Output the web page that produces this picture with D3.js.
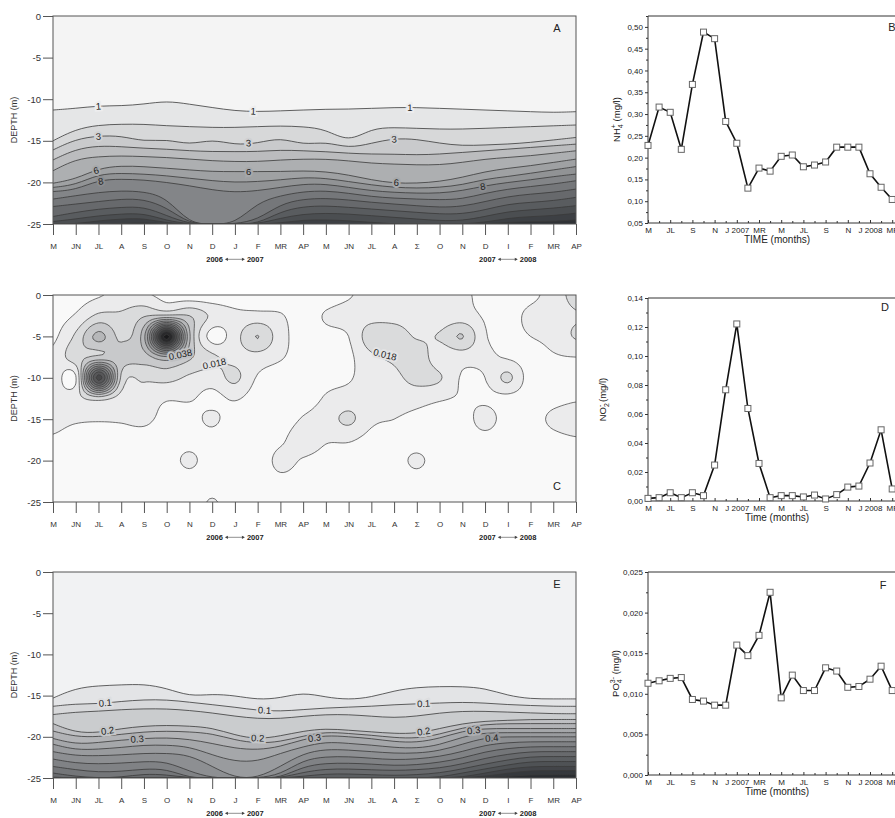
<!DOCTYPE html>
<html><head><meta charset="utf-8">
<script src="https://cdn.jsdelivr.net/npm/d3@7"></script>
<style>
body{margin:0;background:#fff;}
text{font-family:"Liberation Sans", Arial, sans-serif;}
</style></head><body>
<svg id="chart" width="895" height="818"></svg>
<script>
// ---------------- DATA ----------------
const contourMonths = ["M","JN","JL","A","S","O","N","D","J","F","MR","AP","M","JN","JL","A","Σ","O","N","D","I","F","MR","AP"];
const depthTicks = [0,-5,-10,-15,-20,-25];
const yearLabels = [{from:"2006", to:"2007", at:8}, {from:"2007", to:"2008", at:20}];

// Panel A: depth (m) of isolines 1..14 at each month
const aLevels = [1,2,3,4,5,6,7,8,9,10,11,12,13,14];
const aL1 = [-11.3,-11.1,-10.8,-10.8,-10.6,-10.2,-10.6,-11.0,-11.4,-11.5,-11.4,-11.3,-11.2,-11.2,-11.1,-11.0,-11.0,-11.1,-11.2,-11.3,-11.4,-11.5,-11.6,-11.5];
const aL2 = [-15.0,-13.6,-13.1,-13.0,-13.0,-13.2,-13.3,-13.4,-13.4,-13.3,-13.2,-13.3,-13.6,-15.2,-13.5,-13.4,-13.5,-13.6,-13.6,-13.5,-13.4,-13.3,-13.2,-13.1];
const aL3 = [-16.1,-14.8,-14.4,-14.4,-15.1,-14.8,-15.5,-14.8,-15.5,-15.3,-14.6,-15.5,-15.1,-15.9,-15.3,-14.7,-14.8,-15.3,-15.6,-15.5,-15.4,-15.2,-14.9,-14.6];
const aL4 = [-17.3,-16.0,-15.6,-15.7,-15.9,-16.0,-16.2,-16.3,-16.3,-16.3,-16.1,-16.2,-16.3,-16.5,-16.6,-16.6,-16.7,-16.6,-16.4,-16.2,-16.0,-15.8,-15.6,-15.4];
const aL5 = [-18.6,-17.2,-16.9,-16.8,-16.9,-17.0,-17.2,-17.4,-17.5,-17.5,-17.3,-17.2,-17.2,-17.4,-17.7,-17.8,-17.9,-17.9,-17.6,-17.2,-17.0,-16.8,-16.5,-16.2];
const aL6 = [-20.1,-19.6,-18.3,-18.0,-18.1,-18.3,-18.5,-18.7,-18.7,-18.7,-18.7,-18.6,-18.7,-19.1,-19.7,-20.1,-20.1,-19.9,-19.4,-18.7,-18.3,-18.0,-17.6,-17.2];
const aL7 = [-20.6,-20.3,-19.0,-18.9,-19.0,-19.2,-19.5,-19.8,-20.0,-19.9,-19.7,-19.4,-19.5,-19.9,-20.3,-20.6,-20.7,-20.6,-20.3,-19.6,-19.3,-18.9,-18.5,-18.1];
const aL8 = [-21.1,-20.9,-19.7,-19.6,-19.7,-20.0,-20.4,-20.9,-21.2,-21.0,-20.6,-20.2,-20.2,-20.6,-21.0,-21.2,-21.3,-21.3,-21.0,-20.4,-20.0,-19.7,-19.3,-19.0];
const aL9 = [-22.0,-21.6,-21.2,-21.0,-21.1,-21.8,-25,-25,-25,-22.4,-21.6,-21.1,-21.0,-21.3,-21.7,-21.9,-22.0,-22.1,-22.0,-21.3,-20.8,-20.5,-20.2,-19.8];
const aL10 = [-22.9,-22.6,-22.3,-22.0,-22.0,-23.0,-25,-25,-25,-24.5,-22.6,-22.0,-21.9,-22.1,-22.4,-22.6,-22.8,-23.0,-22.9,-22.3,-21.7,-21.4,-21.2,-20.8];
const aL11 = [-24.1,-23.6,-23.2,-23.0,-22.9,-24.0,-25,-25,-25,-25,-23.5,-22.9,-22.8,-23.0,-23.2,-23.4,-23.6,-23.8,-23.8,-23.3,-22.6,-22.4,-22.2,-21.8];
const aL12 = [-24.7,-24.4,-24.0,-23.8,-23.7,-24.6,-25,-25,-25,-25,-24.3,-23.8,-23.7,-23.8,-24.0,-24.2,-24.4,-24.6,-24.6,-24.1,-23.5,-23.3,-23.1,-22.8];
const aL13 = [-25,-25,-24.6,-24.4,-24.3,-24.9,-25,-25,-25,-25,-24.9,-24.5,-24.5,-24.6,-24.8,-25,-25,-25,-25,-24.8,-24.3,-24.1,-24.0,-23.7];
const aL14 = [-25,-25,-25,-25,-24.8,-25,-25,-25,-25,-25,-25,-25,-25,-25,-25,-25,-25,-25,-25,-25,-24.8,-24.7,-24.7,-24.5];
const aIsolines = [aL1,aL2,aL3,aL4,aL5,aL6,aL7,aL8,aL9,aL10,aL11,aL12,aL13,aL14];
const aLabels = [
  {k:0,t:2,s:"1"},{k:0,t:8.8,s:"1"},{k:0,t:15.7,s:"1"},
  {k:2,t:2,s:"3"},{k:2,t:8.6,s:"3"},{k:2,t:15,s:"3"},
  {k:5,t:1.9,s:"6"},{k:5,t:8.6,s:"6"},{k:5,t:15.1,s:"6"},
  {k:7,t:2.1,s:"8"},{k:7,t:18.9,s:"8"}];

// Panel C: NO2 grid (mg/l), rows = depths, columns = months
const cDepths = [0,-2.5,-5,-7.5,-10,-12.5,-15,-17.5,-20,-22.5,-25];
const cR0  = [.002,.004,.007,.011,.010,.004,.002,.002,.002,.001,.001,.001,.003,.007,.012,.012,.011,.011,.010,.005,.004,.006,.012,.022];
const cR1  = [.004,.009,.020,.020,.027,.030,.028,.016,.011,.011,.009,.003,.009,.012,.014,.014,.012,.011,.012,.007,.005,.010,.012,.017];
const cR2  = [.006,.020,.041,.026,.045,.142,.040,.004,.014,.0283,.012,.004,.005,.008,.024,.024,.017,.019,.0285,.009,.006,.008,.011,.019];
const cR3  = [.011,.024,.030,.032,.033,.046,.030,.020,.015,.014,.009,.004,.003,.006,.016,.020,.024,.012,.012,.010,.007,.004,.007,.008];
const cR4  = [.016,.007,.112,.026,.020,.022,.016,.013,.020,.007,.003,.003,.005,.007,.013,.015,.022,.019,.007,.008,.020,.003,.003,.004];
const cR5  = [.012,.015,.022,.014,.013,.009,.009,.005,.009,.003,.002,.003,.009,.012,.012,.011,.011,.009,.007,.006,.005,.003,.005,.007];
const cR6  = [.010,.009,.009,.009,.010,.005,.004,.010,.002,.002,.002,.009,.013,.020,.010,.008,.006,.004,.003,.012,.003,.004,.010,.013];
const cR7  = [.007,.005,.004,.004,.004,.003,.004,.003,.001,.001,.006,.014,.009,.009,.005,.004,.003,.002,.002,.004,.002,.002,.005,.007];
const cR8  = [.002,.002,.002,.002,.002,.003,.010,.002,.001,.001,.011,.007,.004,.003,.003,.003,.010,.002,.001,.002,.002,.001,.002,.002];
const cR9  = [.001,.001,.001,.001,.001,.001,.003,.002,.001,.001,.005,.003,.002,.002,.002,.002,.003,.001,.001,.001,.002,.001,.001,.001];
const cR10 = [.001,.001,.001,.001,.001,.001,.001,.009,.001,.001,.001,.001,.001,.001,.001,.001,.001,.001,.001,.001,.008,.001,.001,.001];
const cGrid = [cR0,cR1,cR2,cR3,cR4,cR5,cR6,cR7,cR8,cR9,cR10];
const cLevels = [0.008,0.018,0.028,0.038,0.048,0.058,0.068,0.078,0.088,0.098,0.108,0.118,0.128,0.138];
const cLabels = [{t:5.6,d:-7.2,s:"0.038",r:-12,k:3},{t:7.1,d:-8.3,s:"0.018",r:-12,k:1},{t:14.6,d:-7.2,s:"0.018",r:14,k:1}];

// Panel E: depth (m) of isolines 0.05..0.80 at each month
const eLevels = [0.05,0.1,0.15,0.2,0.25,0.3,0.35,0.4,0.45,0.5,0.55,0.6,0.65,0.7,0.75,0.8];
const eL1 = [-15.3,-14.1,-13.8,-13.7,-13.6,-14.1,-15.1,-14.8,-15.0,-15.5,-15.3,-14.6,-15.2,-15.5,-15.2,-14.4,-14.0,-13.9,-13.9,-14.1,-15.0,-15.4,-15.4,-15.4];
const eL2 = [-16.3,-16.0,-16.0,-15.7,-15.5,-15.5,-15.8,-16.1,-16.4,-16.8,-16.9,-16.7,-16.5,-16.4,-16.3,-16.1,-16.0,-15.9,-15.8,-15.9,-16.1,-16.2,-16.3,-16.3];
const eL3 = [-17.3,-17.0,-16.9,-16.7,-16.6,-16.6,-16.8,-17.1,-17.5,-17.8,-17.8,-17.5,-17.3,-17.3,-17.5,-17.7,-17.5,-17.1,-16.9,-16.9,-17.0,-17.1,-17.2,-17.2];
const eL4 = [-18.4,-19.5,-19.5,-19.0,-18.7,-18.6,-18.7,-18.9,-19.8,-20.3,-19.9,-19.3,-19.0,-19.2,-19.4,-19.6,-19.6,-19.0,-18.4,-18.1,-18.0,-17.9,-17.9,-17.9];
const eL5 = [-19.3,-20.0,-20.0,-19.7,-19.4,-19.3,-19.4,-19.6,-20.4,-20.8,-20.6,-19.9,-19.4,-19.6,-19.8,-20.1,-20.2,-19.7,-18.9,-18.5,-18.4,-18.4,-18.4,-18.4];
const eL6 = [-20.2,-20.9,-20.7,-20.4,-20.2,-20.1,-20.3,-20.8,-21.4,-21.6,-21.2,-20.3,-19.8,-20.0,-20.2,-20.6,-20.7,-20.2,-19.3,-19.0,-19.0,-19.0,-19.0,-19.0];
const eL7 = [-20.9,-21.6,-21.5,-21.3,-21.0,-21.0,-21.2,-22.2,-23.0,-23.0,-22.0,-21.2,-20.6,-20.8,-21.0,-21.3,-21.4,-21.0,-20.0,-19.5,-19.5,-19.5,-19.5,-19.5];
const eL8 = [-21.8,-22.3,-22.3,-22.2,-22.0,-22.0,-22.2,-23.6,-25,-25,-23.6,-22.0,-21.5,-21.6,-21.8,-22.0,-22.0,-21.7,-20.9,-20.1,-20.0,-20.0,-20.0,-20.0];
const eL9 = [-22.7,-23.2,-23.3,-23.2,-23.0,-23.0,-24.2,-25,-25,-25,-24.6,-22.8,-22.4,-22.4,-22.6,-22.8,-22.7,-22.4,-21.8,-21.0,-20.7,-20.6,-20.6,-20.6];
const eL10 = [-23.6,-24.0,-24.3,-24.2,-23.9,-23.9,-25,-25,-25,-25,-25,-23.6,-23.2,-23.2,-23.3,-23.5,-23.4,-23.1,-22.6,-21.8,-21.4,-21.2,-21.2,-21.2];
const eL11 = [-24.4,-24.8,-25,-24.9,-24.5,-24.6,-25,-25,-25,-25,-25,-24.3,-23.9,-23.9,-24.0,-24.1,-24.0,-23.8,-23.3,-22.6,-22.1,-21.8,-21.8,-21.8];
const eL12 = [-24.9,-25,-25,-25,-25,-25,-25,-25,-25,-25,-25,-24.8,-24.5,-24.5,-24.6,-24.7,-24.6,-24.4,-23.9,-23.3,-22.8,-22.4,-22.4,-22.4];
const eL13 = [-25,-25,-25,-25,-25,-25,-25,-25,-25,-25,-25,-25,-25,-25,-25,-25,-25,-24.9,-24.4,-23.9,-23.4,-23.0,-23.0,-23.0];
const eL14 = [-25,-25,-25,-25,-25,-25,-25,-25,-25,-25,-25,-25,-25,-25,-25,-25,-25,-25,-24.9,-24.4,-23.9,-23.6,-23.6,-23.6];
const eL15 = [-25,-25,-25,-25,-25,-25,-25,-25,-25,-25,-25,-25,-25,-25,-25,-25,-25,-25,-25,-24.8,-24.4,-24.1,-24.1,-24.1];
const eL16 = [-25,-25,-25,-25,-25,-25,-25,-25,-25,-25,-25,-25,-25,-25,-25,-25,-25,-25,-25,-25,-24.8,-24.6,-24.6,-24.6];
const eIsolines = [eL1,eL2,eL3,eL4,eL5,eL6,eL7,eL8,eL9,eL10,eL11,eL12,eL13,eL14,eL15,eL16];
const eLabels = [
  {k:1,t:2.3,s:"0.1"},{k:1,t:9.3,s:"0.1"},{k:1,t:16.3,s:"0.1"},
  {k:3,t:2.4,s:"0.2"},{k:3,t:9.0,s:"0.2"},{k:3,t:16.3,s:"0.2"},
  {k:5,t:3.7,s:"0.3"},{k:5,t:11.5,s:"0.3"},{k:5,t:18.5,s:"0.3"},
  {k:7,t:19.3,s:"0.4"}];

// Line charts (monthly, May 2006 -> Mar 2008)
const lineMonthLabels = ["M","JL","S","N","J 2007","MR","M","JL","S","N","J 2008","MR"];
const nh4 = [0.228,0.316,0.304,0.219,0.368,0.488,0.473,0.283,0.233,0.130,0.176,0.169,0.203,0.206,0.179,0.183,0.190,0.224,0.224,0.224,0.163,0.132,0.104];
const no2 = [0.0018,0.0023,0.0057,0.0023,0.0057,0.0037,0.0248,0.0767,0.1221,0.0638,0.0259,0.0023,0.0037,0.0037,0.0028,0.0041,0.0014,0.0044,0.0096,0.0103,0.0262,0.0491,0.0083];
const po4 = [0.0113,0.0116,0.0119,0.0120,0.0093,0.0091,0.0086,0.0086,0.0160,0.0147,0.0172,0.0225,0.0095,0.0123,0.0104,0.0104,0.0132,0.0128,0.0108,0.0109,0.0118,0.0134,0.0104];
const nh4Ticks = [0.05,0.10,0.15,0.20,0.25,0.30,0.35,0.40,0.45,0.50];
const no2Ticks = [0,0.02,0.04,0.06,0.08,0.10,0.12,0.14];
const po4Ticks = [0,0.005,0.010,0.015,0.020,0.025];

// ---------------- DRAW ----------------
const svg = d3.select("#chart");
svg.append("rect").attr("width",895).attr("height",818).attr("fill","#fff");
const defs = svg.append("defs");
const xC = d3.scaleLinear().domain([0,23]).range([53,576]);

function basisAt(arr, t){
  const n = arr.length;
  const v = i => arr[Math.max(0, Math.min(n-1, i))];
  const k = i => (i<=0||i>=n-1) ? v(i) : (v(i-1)+4*v(i)+v(i+1))/6;
  const i0 = Math.floor(t), f = t - i0;
  return k(i0)*(1-f) + k(i0+1)*f;
}

function contourFrame(top, bottom){
  const y = d3.scaleLinear().domain([0,-25]).range([top,bottom]);
  const g = svg.append("g");
  const ya = g.append("g").attr("transform","translate(53,0)")
    .call(d3.axisLeft(y).tickValues(depthTicks).tickSize(10).tickSizeOuter(0).tickPadding(2).tickFormat(d=>String(d)));
  const xa = g.append("g").attr("transform",`translate(0,${bottom})`)
    .call(d3.axisBottom(xC).tickValues(d3.range(24)).tickSize(11).tickSizeOuter(0).tickPadding(8).tickFormat(i=>contourMonths[i]));
  [ya,xa].forEach(a=>{a.selectAll("path,line").attr("stroke","#555");a.select(".domain").remove();});
  ya.selectAll("text").attr("font-size",9.5).attr("fill","#333").attr("font-family","Liberation Sans, Arial, sans-serif");
  xa.selectAll("text").attr("font-size",8).attr("fill","#333").attr("font-family","Liberation Sans, Arial, sans-serif");
  g.append("text").attr("transform",`translate(17,${(top+bottom)/2}) rotate(-90)`).attr("text-anchor","middle")
    .attr("font-size",9).attr("fill","#333").text("DEPTH (m)");
  yearLabels.forEach(yl=>{
    const cx = xC(yl.at), by = bottom + 38;
    g.append("text").attr("x",cx-12).attr("y",by).attr("text-anchor","end").attr("font-size",7.5).attr("font-weight","bold").attr("fill","#222").text(yl.from);
    g.append("text").attr("x",cx+12).attr("y",by).attr("text-anchor","start").attr("font-size",7.5).attr("font-weight","bold").attr("fill","#222").text(yl.to);
    g.append("line").attr("x1",cx-9).attr("x2",cx+9).attr("y1",by-2.7).attr("y2",by-2.7).attr("stroke","#444").attr("stroke-width",0.6);
    g.append("path").attr("d",`M${cx-10},${by-2.7}l3,-1.6v3.2z M${cx+10},${by-2.7}l-3,-1.6v3.2z`).attr("fill","#444");
  });
  return y;
}

function frameAndLetter(top, bottom, letter, letterY){
  svg.append("rect").attr("x",53).attr("y",top).attr("width",523).attr("height",bottom-top)
    .attr("fill","none").attr("stroke","#555").attr("stroke-width",1);
  svg.append("text").attr("x",557).attr("y",letterY).attr("text-anchor","middle").attr("font-size",11).attr("fill","#222").text(letter);
}

function clipFor(id, top, bottom){
  defs.append("clipPath").attr("id",id).append("rect").attr("x",53).attr("y",top).attr("width",523).attr("height",bottom-top);
}

function bandPanel(id, top, bottom, isolines, topColor, colA, colB, labels){
  clipFor(id, top, bottom);
  const y = d3.scaleLinear().domain([0,-25]).range([top,bottom]);
  const g = svg.append("g").attr("clip-path",`url(#${id})`);
  const n = isolines.length;
  const col = k => d3.interpolateRgb(colA, colB)(k/(n-1));
  g.append("rect").attr("x",53).attr("y",top).attr("width",523).attr("height",bottom-top).attr("fill",topColor);
  const area = d3.area().x((d,i)=>xC(i)).y0(d=>y(d)).y1(bottom+3).curve(d3.curveBasis);
  isolines.forEach((L,k)=> g.append("path").datum(L).attr("d",area).attr("fill",col(k)));
  const line = d3.line().x((d,i)=>xC(i)).y(d=>y(d)).curve(d3.curveBasis);
  isolines.forEach(L=> g.append("path").datum(L).attr("d",line).attr("fill","none").attr("stroke","#3a3a3a").attr("stroke-width",0.8));
  labels.forEach(lb=>{
    const L = isolines[lb.k];
    const px = xC(lb.t), py = y(basisAt(L, lb.t));
    const a = Math.atan2(y(basisAt(L,lb.t+0.4))-y(basisAt(L,lb.t-0.4)), xC(lb.t+0.4)-xC(lb.t-0.4))*180/Math.PI;
    const halo = d3.interpolateRgb(lb.k===0?topColor:col(lb.k-1), col(lb.k))(0.5);
    g.append("text").attr("transform",`translate(${px},${py}) rotate(${Math.max(-30,Math.min(30,a))})`)
      .attr("text-anchor","middle").attr("dy","0.35em").attr("font-size",9.5).attr("fill","#222")
      .attr("stroke",halo).attr("stroke-width",4).attr("paint-order","stroke").text(lb.s);
  });
}

// ---- Panel A
contourFrame(16, 224);
bandPanel("clipA", 16, 224, aIsolines, "#f4f4f4", "#e5e6e7", "#2f3236", aLabels);
frameAndLetter(16, 224, "A", 32);

// ---- Panel C
const yCc = contourFrame(295, 502);
clipFor("clipC", 295, 502);
(function(){
  const S = 8, R = cGrid.length, Cn = cGrid[0].length;
  const nx = (Cn-1)*S+1, ny = (R-1)*S+1;
  const g = (a,b)=> cGrid[Math.max(0,Math.min(R-1,a))][Math.max(0,Math.min(Cn-1,b))];
  const cr = (p0,p1,p2,p3,t)=>0.5*(2*p1+(-p0+p2)*t+(2*p0-5*p1+4*p2-p3)*t*t+(-p0+3*p1-3*p2+p3)*t*t*t);
  const vals = new Float64Array(nx*ny);
  for(let j=0;j<ny;j++){
    const r = j/S, ri = Math.min(Math.floor(r), R-2), tr = r-ri;
    for(let i=0;i<nx;i++){
      const c = i/S, ci = Math.min(Math.floor(c), Cn-2), tc = c-ci;
      const rows = [-1,0,1,2].map(d=>cr(g(ri+d,ci-1),g(ri+d,ci),g(ri+d,ci+1),g(ri+d,ci+2),tc));
      vals[j*nx+i] = Math.max(0, cr(rows[0],rows[1],rows[2],rows[3],tr));
    }
  }
  const contours = d3.contours().size([nx,ny]).thresholds(cLevels)(vals);
  const rowToDepth = d3.scaleLinear().domain([0,R-1]).range([cDepths[0],cDepths[R-1]]);
  const proj = d3.geoTransform({point(px,py){
    this.stream.point(xC((px-0.5)/S), yCc(rowToDepth((py-0.5)/S)));
  }});
  const path = d3.geoPath(proj);
  const base = ["#ebebec","#dadbdc","#c8c9cb","#b6b7b9"];
  const col = k => k<4 ? base[k] : d3.interpolateRgb("#a3a4a6","#1a1a1c")((k-4)/(cLevels.length-5));
  const gg = svg.append("g").attr("clip-path","url(#clipC)");
  gg.append("rect").attr("x",53).attr("y",295).attr("width",523).attr("height",207).attr("fill","#f9f9f9");
  contours.forEach((c,k)=> gg.append("path").attr("d",path(c)).attr("fill",col(k)));
  contours.forEach((c,k)=> gg.append("path").attr("d",path(c)).attr("fill","none").attr("stroke","#3a3a3a").attr("stroke-width",0.7));
  cLabels.forEach(lb=>{
    const halo = d3.interpolateRgb(lb.k===0?"#f9f9f9":col(lb.k-1), col(lb.k))(0.5);
    gg.append("text").attr("transform",`translate(${xC(lb.t)},${yCc(lb.d)}) rotate(${lb.r})`)
      .attr("text-anchor","middle").attr("dy","0.35em").attr("font-size",9.5).attr("fill","#222")
      .attr("stroke",halo).attr("stroke-width",4).attr("paint-order","stroke").text(lb.s);
  });
})();
frameAndLetter(295, 502, "C", 490);

// ---- Panel E
contourFrame(572, 778);
bandPanel("clipE", 572, 778, eIsolines, "#f1f2f3", "#e3e4e6", "#2a2d31", eLabels);
frameAndLetter(572, 778, "E", 588);

// ---- Line charts
const xL = d3.scaleLinear().domain([0,23]).range([648, 648+23*11.1]);
function lineChart(cfg){
  const {top,bottom,domain,ticks,fmt,data,title,letter,lx,ly,ytitleX,ytitle} = cfg;
  const y = d3.scaleLinear().domain(domain).range([bottom,top]);
  const g = svg.append("g");
  g.append("path").attr("d",`M648,${bottom}V${top}H930`).attr("fill","none").attr("stroke","#333").attr("stroke-width",1);
  g.append("path").attr("d",`M648,${bottom}H930`).attr("fill","none").attr("stroke","#333").attr("stroke-width",1);
  const step = ticks[1]-ticks[0];
  const minor = ticks.slice(0,-1).map(t=>t+step/2).concat(ticks[ticks.length-1]+step/2 <= domain[1]+1e-9 ? [ticks[ticks.length-1]+step/2] : []);
  const ya = g.append("g").attr("transform","translate(648,0)")
    .call(d3.axisLeft(y).tickValues(ticks).tickSize(3).tickSizeOuter(0).tickPadding(2).tickFormat(d=>fmt(d).replace(".",",")));
  const ym = g.append("g").attr("transform","translate(648,0)")
    .call(d3.axisLeft(y).tickValues(minor).tickSize(2).tickSizeOuter(0).tickFormat(""));
  const xa = g.append("g").attr("transform",`translate(0,${bottom})`)
    .call(d3.axisBottom(xL).tickValues(d3.range(0,23,2)).tickSize(-3).tickSizeOuter(0).tickPadding(4).tickFormat((d,i)=>lineMonthLabels[i]));
  const xm = g.append("g").attr("transform",`translate(0,${bottom})`)
    .call(d3.axisBottom(xL).tickValues(d3.range(1,23,2)).tickSize(-2).tickSizeOuter(0).tickFormat(""));
  [ya,ym,xa,xm].forEach(a=>{a.select(".domain").remove(); a.selectAll("line").attr("stroke","#333");});
  [ya,xa].forEach(a=>a.selectAll("text").attr("font-size",8).attr("fill","#222").attr("font-family","Liberation Sans, Arial, sans-serif"));
  g.append("path").datum(data).attr("d",d3.line().x((d,i)=>xL(i)).y(d=>y(d)))
    .attr("fill","none").attr("stroke","#111").attr("stroke-width",1.6);
  g.selectAll(null).data(data).join("rect").attr("x",(d,i)=>xL(i)-3).attr("y",d=>y(d)-3).attr("width",6).attr("height",6)
    .attr("fill","#fff").attr("stroke","#666").attr("stroke-width",1);
  g.append("text").attr("x",777).attr("y",bottom+20).attr("text-anchor","middle").attr("font-size",10).attr("fill","#222").text(title);
  g.append("text").attr("x",lx).attr("y",ly).attr("text-anchor","middle").attr("font-size",11).attr("fill","#222").text(letter);
  const t = g.append("text").attr("transform",`translate(${ytitleX},${(top+bottom)/2}) rotate(-90)`).attr("text-anchor","middle")
    .attr("font-size",9.5).attr("fill","#222");
  t.append("tspan").text(ytitle[0]);
  t.append("tspan").attr("font-size",7).attr("dy",2.5).text(ytitle[1]);
  t.append("tspan").attr("font-size",7).attr("dx",-3.9).attr("dy",-7).text(ytitle[2]);
  t.append("tspan").attr("dy",4.5).text(" (mg/l)");
}
lineChart({top:16,bottom:223,domain:[0.05,0.525],ticks:nh4Ticks,fmt:d3.format(".2f"),data:nh4,title:"TIME (months)",letter:"B",lx:892,ly:31,ytitleX:620,ytitle:["NH","4","+"]});
lineChart({top:298,bottom:501,domain:[0,0.14],ticks:no2Ticks,fmt:d3.format(".2f"),data:no2,title:"Time (months)",letter:"D",lx:885,ly:311,ytitleX:606,ytitle:["NO","2","-"]});
lineChart({top:572,bottom:775,domain:[0,0.025],ticks:po4Ticks,fmt:d3.format(".3f"),data:po4,title:"Time (months)",letter:"F",lx:883,ly:589,ytitleX:619,ytitle:["PO","4","3-"]});
</script>
</body></html>
